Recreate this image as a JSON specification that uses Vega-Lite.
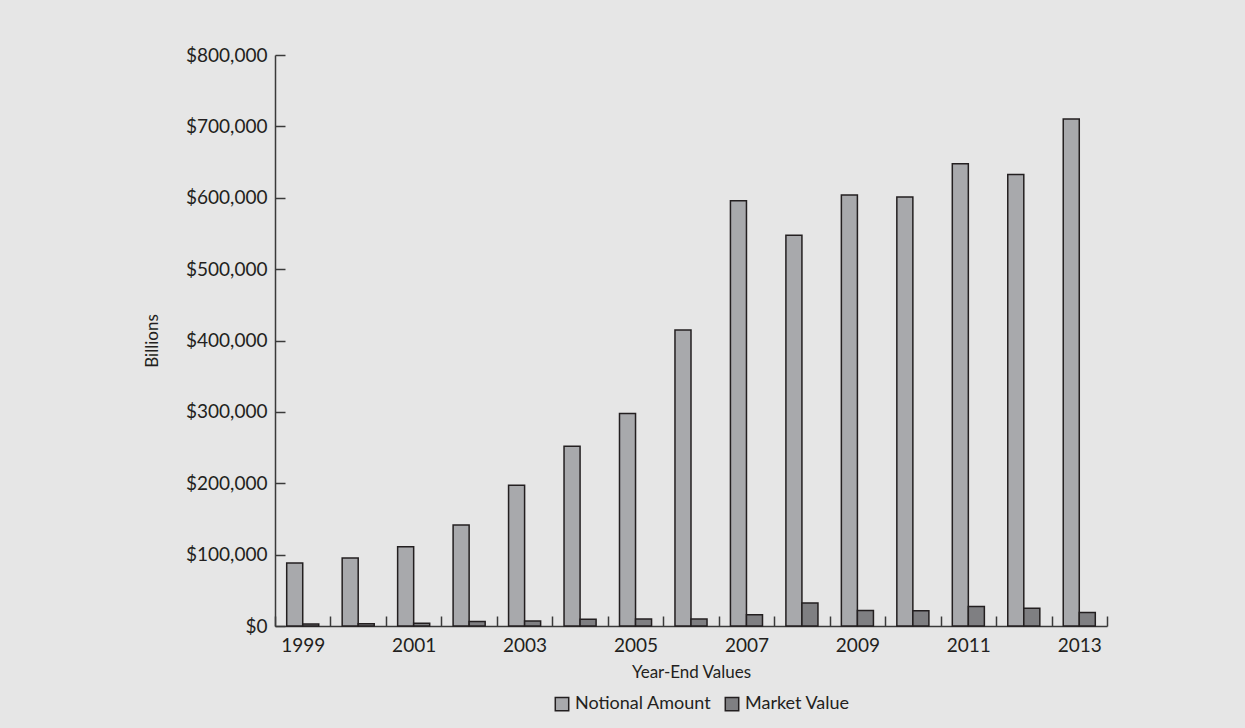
{
  "$schema": "https://vega.github.io/schema/vega-lite/v6.json",
  "autosize": {"type": "none"},
  "width": 832,
  "height": 571,
  "padding": {"left": 275, "top": 55, "right": 138, "bottom": 102},
  "background": "#e6e6e6",
  "config": {
    "view": {"stroke": null},
    "font": "Lato",
    "axis": {"labelFont": "Lato", "titleFont": "Lato", "labelColor": "#231f20", "titleColor": "#231f20", "domainColor": "#3a3a3a", "tickColor": "#3a3a3a", "domainWidth": 1.5, "tickWidth": 1.5, "labelFontSize": 19, "titleFontSize": 17, "titleFontWeight": "normal", "grid": false}
  },
  "data": {
    "values": [
      {"year": "1999", "series": "Notional Amount", "value": 88202},
      {"year": "2000", "series": "Notional Amount", "value": 95199},
      {"year": "2001", "series": "Notional Amount", "value": 111178},
      {"year": "2002", "series": "Notional Amount", "value": 141665},
      {"year": "2003", "series": "Notional Amount", "value": 197167},
      {"year": "2004", "series": "Notional Amount", "value": 251823},
      {"year": "2005", "series": "Notional Amount", "value": 297666},
      {"year": "2006", "series": "Notional Amount", "value": 414845},
      {"year": "2007", "series": "Notional Amount", "value": 595738},
      {"year": "2008", "series": "Notional Amount", "value": 547371},
      {"year": "2009", "series": "Notional Amount", "value": 603900},
      {"year": "2010", "series": "Notional Amount", "value": 601046},
      {"year": "2011", "series": "Notional Amount", "value": 647762},
      {"year": "2012", "series": "Notional Amount", "value": 632579},
      {"year": "2013", "series": "Notional Amount", "value": 710182},
      {"year": "1999", "series": "Market Value", "value": 2813},
      {"year": "2000", "series": "Market Value", "value": 3183},
      {"year": "2001", "series": "Market Value", "value": 3788},
      {"year": "2002", "series": "Market Value", "value": 6360},
      {"year": "2003", "series": "Market Value", "value": 6987},
      {"year": "2004", "series": "Market Value", "value": 9377},
      {"year": "2005", "series": "Market Value", "value": 9749},
      {"year": "2006", "series": "Market Value", "value": 9691},
      {"year": "2007", "series": "Market Value", "value": 15813},
      {"year": "2008", "series": "Market Value", "value": 32375},
      {"year": "2009", "series": "Market Value", "value": 21542},
      {"year": "2010", "series": "Market Value", "value": 21296},
      {"year": "2011", "series": "Market Value", "value": 27285},
      {"year": "2012", "series": "Market Value", "value": 24740},
      {"year": "2013", "series": "Market Value", "value": 18825}
    ]
  },
  "mark": {"type": "bar", "stroke": "#231f20", "strokeWidth": 1.5},
  "encoding": {
    "x": {
      "field": "year", "type": "nominal",
      "scale": {"paddingInner": 0, "paddingOuter": 0},
      "axis": {
        "title": "Year-End Values", "labelAngle": 0, "tickBand": "extent",
        "tickSize": -10, "labelPadding": 20, "titlePadding": 9,
        "labelExpr": "toNumber(datum.value) % 2 == 1 ? datum.label : ''"
      }
    },
    "xOffset": {
      "field": "series", "type": "nominal",
      "sort": ["Notional Amount", "Market Value"],
      "scale": {"paddingInner": 0, "paddingOuter": 0.73}
    },
    "y": {
      "field": "value", "type": "quantitative",
      "scale": {"domain": [0, 800000]},
      "axis": {
        "title": "Billions", "format": "$,.0f",
        "values": [0, 100000, 200000, 300000, 400000, 500000, 600000, 700000, 800000],
        "tickSize": -10, "labelPadding": 18, "titlePadding": 24
      }
    },
    "color": {
      "field": "series", "type": "nominal",
      "sort": ["Notional Amount", "Market Value"],
      "scale": {"domain": ["Notional Amount", "Market Value"], "range": ["#a8a9ac", "#7f7f82"]},
      "legend": {
        "title": null, "orient": "none", "direction": "horizontal",
        "legendX": 278, "legendY": 640,
        "symbolType": "square", "symbolSize": 180, "symbolStrokeColor": "#231f20", "symbolStrokeWidth": 1.5,
        "labelFont": "Lato", "labelFontSize": 18, "labelColor": "#231f20", "columnPadding": 10, "symbolOffset": 0, "labelOffset": 4
      }
    }
  }
}
